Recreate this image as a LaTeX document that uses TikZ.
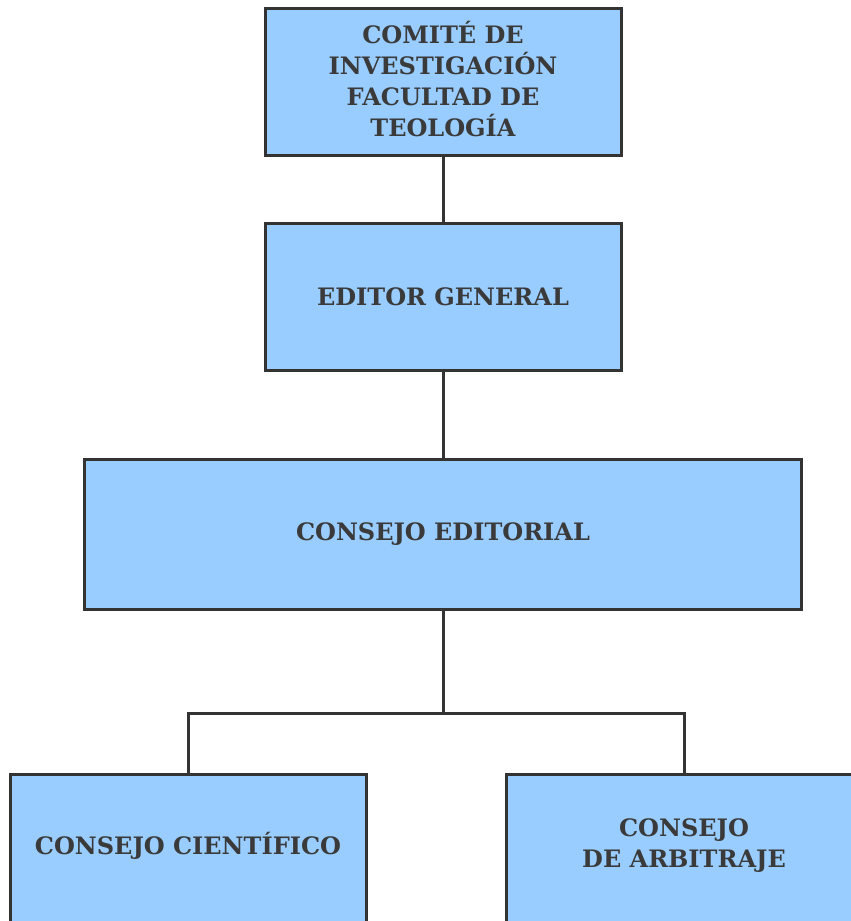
\documentclass[tikz,border=0pt]{standalone}
\usepackage{fontspec}
\setmainfont{DejaVu Serif}
\definecolor{boxfill}{HTML}{99CCFF}
\definecolor{boxline}{HTML}{333333}
\definecolor{txt}{HTML}{3A3A3A}
\begin{document}
\begin{tikzpicture}[x=1pt,y=-1pt,
  orgbox/.style={draw=boxline,fill=boxfill,line width=3pt,inner sep=0pt,
    minimum width=356pt,minimum height=147pt,align=center,text=txt,
    font=\fontsize{24}{31}\selectfont\bfseries},
  lbl/.style={text=txt,align=center,font=\fontsize{24}{31}\selectfont\bfseries},
  link/.style={draw=boxline,line width=3pt}]
\useasboundingbox (0,0) rectangle (851,921);
\clip (0,0) rectangle (851,921);
\node[orgbox] (comite) at (443,82) {};
\node[lbl] (comitelabel) at (443,79) {COMITÉ DE\\INVESTIGACIÓN\\FACULTAD DE\\TEOLOGÍA};
\node[orgbox] (editor) at (443,296.5) {EDITOR GENERAL};
\node[orgbox,minimum width=717pt,minimum height=150pt] (consejo) at (443,534) {CONSEJO EDITORIAL};
\node[orgbox,minimum height=154pt] (cientifico) at (188,851) {};
\node[lbl] (cientificolabel) at (188,846) {CONSEJO CIENTÍFICO};
\node[orgbox,minimum height=154pt] (arbitraje) at (684,851) {};
\node[lbl] (arbitrajelabel) at (684,846) {CONSEJO\\DE ARBITRAJE};
\coordinate (split) at (443,713);
\draw[link] (comite.south) -- (editor.north);
\draw[link] (editor.south) -- (consejo.north);
\draw[link] (consejo.south) -- (split);
\draw[link] (cientifico.north) |- (split) -| (arbitraje.north);
\end{tikzpicture}
\end{document}
